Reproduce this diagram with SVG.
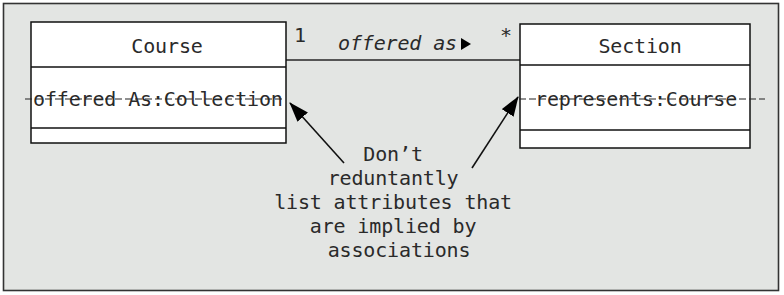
<svg xmlns="http://www.w3.org/2000/svg" width="784" height="295" viewBox="0 0 784 295">
<style>
.t{font-family:"DejaVu Sans Mono","Liberation Mono",monospace;font-size:20px;letter-spacing:-0.15px;fill:#2a2a2a}
.i{font-style:italic}
.box{fill:#fff;stroke:#111;stroke-width:1.5}
.div{stroke:#111;stroke-width:1.5}
.strike{stroke:#222;stroke-width:1.2;stroke-dasharray:7 3}
.arr{stroke:#111;stroke-width:1.6;fill:none}
</style>
<defs>
<marker id="ah" viewBox="0 0 20 14" refX="19" refY="7" markerWidth="20" markerHeight="14" markerUnits="userSpaceOnUse" orient="auto">
<path d="M0,0 L20,7 L0,14 z" fill="#000"/>
</marker>
</defs>
<rect x="3.5" y="3.5" width="775" height="287" fill="#e3e5e3" stroke="#333" stroke-width="1.6"/>
<g id="connectors">
<line x1="286" y1="60" x2="520" y2="60" stroke="#555" stroke-width="2"/>
<text class="t" x="294" y="42">1</text>
<text class="t i" x="338" y="50">offered as</text>
<path d="M461,38 L471,44 L461,50 z" fill="#000"/>
<text class="t" x="500" y="42">*</text>
<line class="arr" x1="344" y1="163" x2="290" y2="103" marker-end="url(#ah)"/>
<line class="arr" x1="472" y1="168" x2="518" y2="97" marker-end="url(#ah)"/>
</g>
<g id="course">
<rect class="box" x="31" y="22" width="255" height="121"/>
<line class="div" x1="31" y1="67" x2="286" y2="67"/>
<line class="div" x1="31" y1="128" x2="286" y2="128"/>
<text class="t" x="167" y="53" text-anchor="middle">Course</text>
<text class="t" x="33" y="106">offered As:Collection</text>
<line class="strike" x1="25" y1="99" x2="285" y2="99"/>
</g>
<g id="section">
<rect class="box" x="520" y="24" width="230" height="124"/>
<line class="div" x1="520" y1="65" x2="750" y2="65"/>
<line class="div" x1="520" y1="130" x2="750" y2="130"/>
<text class="t" x="640" y="53" text-anchor="middle">Section</text>
<text class="t" x="535" y="106">represents:Course</text>
<line class="strike" x1="519" y1="99" x2="765" y2="99"/>
</g>
<g id="note">
<text class="t" text-anchor="middle">
<tspan x="399" y="161">Don’t</tspan>
<tspan x="399" y="185">reduntantly</tspan>
<tspan x="399" y="209">list attributes that</tspan>
<tspan x="399" y="233">are implied by</tspan>
<tspan x="399" y="257">associations</tspan>
</text>
</g>
</svg>
